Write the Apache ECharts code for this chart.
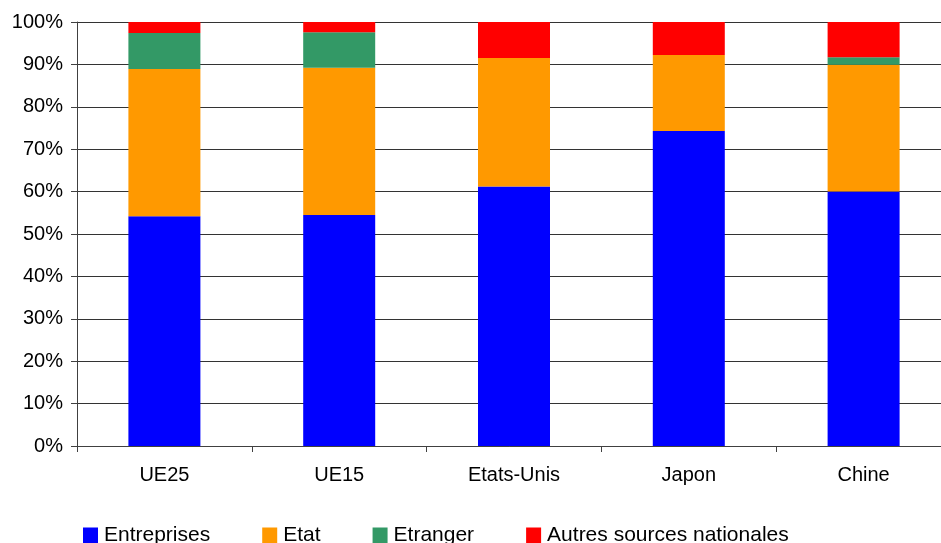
<!DOCTYPE html>
<html>
<head>
<meta charset="utf-8">
<script src="https://cdn.jsdelivr.net/npm/echarts@6/dist/echarts.min.js"></script>
<style>
  html, body { margin: 0; padding: 0; background: #fff; }
  #chart { width: 941px; height: 543px; }
</style>
</head>
<body>
<div id="chart"></div>
<script>
// Sources of R&D funding, share of total (%)
const categories = ['UE25', 'UE15', 'Etats-Unis', 'Japon', 'Chine'];
const entreprises = [54.2, 54.5, 61.2, 74.3, 60.0];
const etat        = [34.7, 34.7, 30.3, 17.9, 29.9];
const etranger    = [8.5, 8.4, 0, 0, 1.8];
const autres      = [2.6, 2.4, 8.5, 7.8, 8.3];
const yTicks = { min: 0, max: 100, step: 10 };

const FONT = '"Liberation Sans", Arial, sans-serif';

function barSeries(name, data, color) {
  return {
    name: name,
    type: 'bar',
    stack: 'total',
    data: data,
    barWidth: 72,
    itemStyle: { color: color },
    emphasis: { disabled: true }
  };
}

const chart = echarts.init(document.getElementById('chart'), null, { renderer: 'canvas' });
chart.setOption({
  animation: false,
  backgroundColor: '#ffffff',
  textStyle: { fontFamily: FONT, color: '#000' },
  // plot area runs slightly past the right edge of the canvas
  grid: { left: 77, width: 874, top: 22, height: 424, containLabel: false, outerBoundsMode: 'none' },
  legend: {
    left: 78,
    top: 520,
    icon: 'rect',
    itemWidth: 15,
    itemHeight: 16,
    itemGap: 52,
    textStyle: { fontFamily: FONT, fontSize: 21, color: '#000', padding: [0, 0, 0, 1] },
    data: ['Entreprises', 'Etat', 'Etranger', 'Autres sources nationales']
  },
  xAxis: {
    type: 'category',
    data: categories,
    axisLine: { lineStyle: { color: '#404040', width: 1 } },
    axisTick: { show: true, length: 6, inside: false, alignWithLabel: false, lineStyle: { color: '#404040' } },
    axisLabel: { fontFamily: FONT, fontSize: 20, color: '#000', margin: 19 }
  },
  yAxis: {
    type: 'value',
    min: yTicks.min,
    max: yTicks.max,
    interval: yTicks.step,
    axisLine: { show: true, lineStyle: { color: '#404040', width: 1 } },
    axisTick: { show: true, length: 6, lineStyle: { color: '#404040' } },
    axisLabel: { fontFamily: FONT, fontSize: 20, color: '#000', margin: 14, formatter: '{value}%' },
    splitLine: { show: true, lineStyle: { color: '#333', width: 1 } }
  },
  series: [
    barSeries('Entreprises', entreprises, '#0000ff'),
    barSeries('Etat', etat, '#ff9900'),
    barSeries('Etranger', etranger, '#339966'),
    barSeries('Autres sources nationales', autres, '#ff0000')
  ]
});
</script>
</body>
</html>
